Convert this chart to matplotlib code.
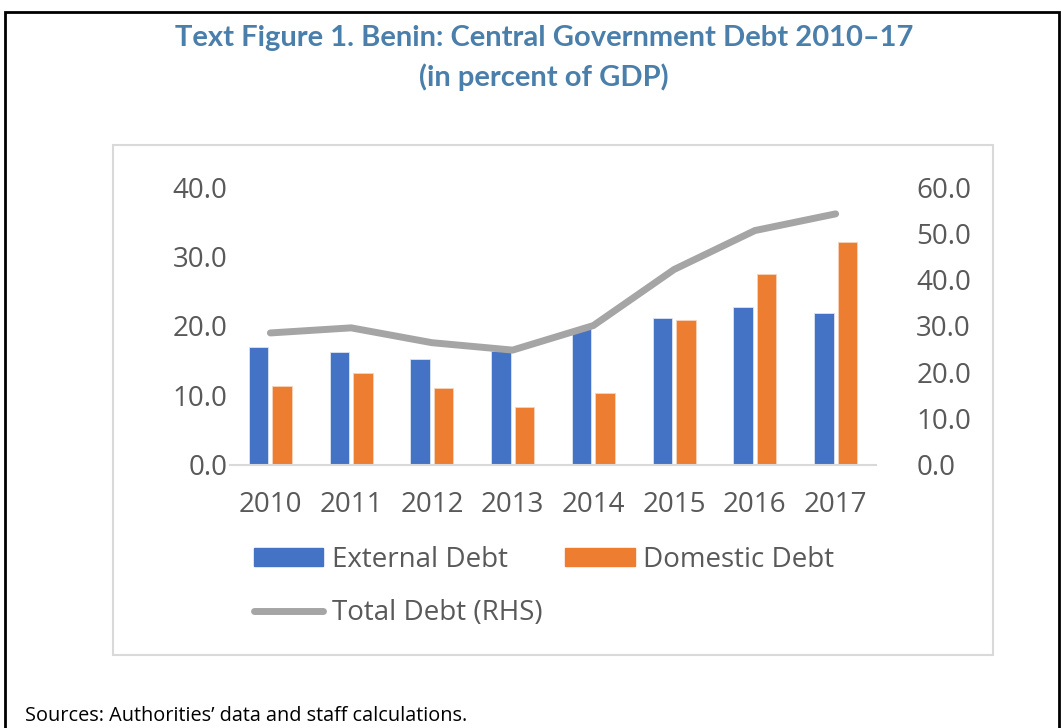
import matplotlib.pyplot as plt
import numpy as np
from matplotlib.patches import Rectangle
from matplotlib.lines import Line2D

# Benin central government debt, percent of GDP
years = ['2010', '2011', '2012', '2013', '2014', '2015', '2016', '2017']
external_debt = [17.0, 16.3, 15.3, 16.4, 19.6, 21.2, 22.7, 21.9]
domestic_debt = [11.4, 13.2, 11.1, 8.3, 10.4, 20.8, 27.5, 32.1]
total_debt = [28.5, 29.6, 26.4, 24.8, 30.1, 42.2, 50.6, 54.2]

BLUE = '#4472C4'
ORANGE = '#ED7D31'
GRAY = '#A5A5A5'
TEXT = '#595959'
TITLE = '#4A7EAB'

W, H = 1061, 728
fig = plt.figure(figsize=(W / 100, H / 100), dpi=100)
fig.patch.set_facecolor('white')

# outer frame and inner chart box (in pixels, converted to figure fractions)
def px(x0, y0, x1, y1):
    return x0 / W, 1 - y1 / H, (x1 - x0) / W, (y1 - y0) / H

fx, fy, fw, fh = px(5, 12, 1059, 740)
fig.patches.append(Rectangle((fx, fy), fw, fh, transform=fig.transFigure,
                             fill=False, edgecolor='black', linewidth=2))
bx, by, bw, bh = px(113, 145, 993, 655)
fig.patches.append(Rectangle((bx, by), bw, bh, transform=fig.transFigure,
                             fill=False, edgecolor='#D9D9D9', linewidth=1.5))

fig.text(544 / W, 1 - 38 / H, 'Text Figure 1. Benin: Central Government Debt 2010\u201317',
         ha='center', va='center', fontsize=21, fontweight='bold',
         family='Lato', color=TITLE)
fig.text(544 / W, 1 - 77 / H, '(in percent of GDP)',
         ha='center', va='center', fontsize=21, fontweight='bold',
         family='Lato', color=TITLE)
fig.text(25 / W, 1 - 716 / H, 'Sources: Authorities\u2019 data and staff calculations.',
         ha='left', va='center', fontsize=14.3, family='Open Sans', color='black')

ax = fig.add_axes(px(230, 187, 876, 465))
x = np.arange(len(years))
bw_ = 0.24
ax.bar(x - 0.145, external_debt, width=bw_, color=BLUE, edgecolor='#DCE4F4',
       linewidth=0.6, label='External Debt', zorder=2)
ax.bar(x + 0.145, domestic_debt, width=bw_, color=ORANGE, edgecolor='#F8D3BA',
       linewidth=0.6, label='Domestic Debt', zorder=2)
ax.set_xlim(-0.5, len(years) - 0.5)
ax.set_ylim(0, 40)
ax.set_yticks(np.arange(0, 41, 10))
ax.set_yticklabels([f'{v:.1f}' for v in np.arange(0, 41, 10)])
ax.set_xticks(x)
ax.set_xticklabels(years)

ax2 = ax.twinx()
ax2.plot(x, total_debt, color=GRAY, linewidth=5, solid_capstyle='round',
         solid_joinstyle='miter', zorder=3)
ax2.set_ylim(0, 60)
ax2.set_yticks(np.arange(0, 61, 10))
ax2.set_yticklabels([f'{v:.1f}' for v in np.arange(0, 61, 10)])

for a in (ax, ax2):
    for s in a.spines.values():
        s.set_visible(False)
    a.tick_params(length=0, labelsize=20, labelcolor=TEXT)
    for lbl in a.get_xticklabels() + a.get_yticklabels():
        lbl.set_family('Open Sans')
ax.spines['bottom'].set_visible(True)
ax.spines['bottom'].set_color('#D9D9D9')
ax.spines['bottom'].set_linewidth(1.5)
ax.tick_params(axis='y', pad=2)
ax.tick_params(axis='x', pad=19)
ax2.tick_params(axis='y', pad=29)

# legend: two bar entries on top, line below
handles = [
    Rectangle((0, 0), 1, 1, color=BLUE),
    Line2D([0], [0], color=GRAY, linewidth=5, solid_capstyle='round'),
    Rectangle((0, 0), 1, 1, color=ORANGE),
]
labels = ['External Debt', 'Total Debt (RHS)', 'Domestic Debt']
leg = fig.legend(handles, labels, loc='upper left',
                 bbox_to_anchor=(240 / W, 1 - 532 / H), ncol=2, frameon=False,
                 prop={'family': 'Open Sans', 'size': 20},
                 handlelength=2.5, handleheight=0.6, handletextpad=0.3,
                 columnspacing=0.82, labelspacing=0.9, borderpad=0)
for t in leg.get_texts():
    t.set_color(TEXT)

fig.savefig('out.png', dpi=100)
